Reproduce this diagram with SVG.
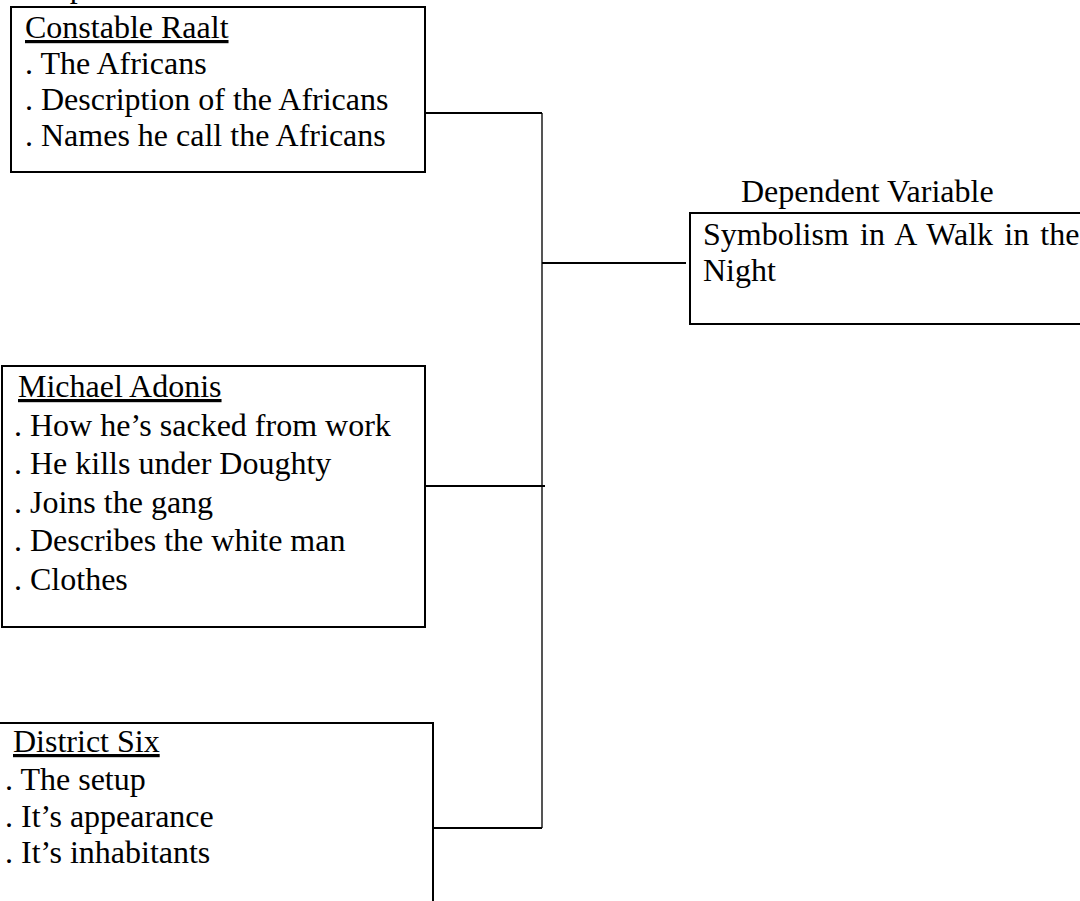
<svg xmlns="http://www.w3.org/2000/svg" width="1080" height="901" viewBox="0 0 1080 901">
<style>
text{font-family:"Liberation Serif","Times New Roman",serif;font-size:32px;fill:#000}
.box{fill:#fff;stroke:#000;stroke-width:2}
.u{text-decoration:underline}
.c{stroke:#000;stroke-width:2;fill:none}
.v{stroke:#555;stroke-width:2;fill:none}
</style>
<rect width="1080" height="901" fill="#fff"/>
<text x="13" y="-3">Independent Variable</text>
<g id="connectors">
<line class="v" x1="542" y1="113" x2="542" y2="828"/>
<line class="c" x1="422" y1="113" x2="542" y2="113"/>
<line class="c" x1="542" y1="263" x2="686" y2="263"/>
<line class="c" x1="425" y1="486" x2="545" y2="486"/>
<line class="c" x1="433" y1="828" x2="542" y2="828"/>
</g>
<g id="constable-raalt">
<rect class="box" x="11" y="7" width="414" height="165"/>
<text x="25" y="38" class="u">Constable Raalt</text>
<text x="25" y="74">. The Africans</text>
<text x="25" y="110">. Description of the Africans</text>
<text x="25" y="146">. Names he call the Africans</text>
</g>
<g id="dependent-variable">
<text x="741" y="202">Dependent Variable</text>
<rect class="box" x="690" y="213" width="400" height="111"/>
<text x="703" y="245" word-spacing="3.2">Symbolism in A Walk in the</text>
<text x="703" y="281">Night</text>
</g>
<g id="michael-adonis">
<rect class="box" x="2" y="366" width="423" height="261"/>
<text x="18" y="397" class="u">Michael Adonis</text>
<text x="14" y="435.5">. How he’s sacked from work</text>
<text x="14" y="474">. He kills under Doughty</text>
<text x="14" y="512.5">. Joins the gang</text>
<text x="14" y="551">. Describes the white man</text>
<text x="14" y="589.5">. Clothes</text>
</g>
<g id="district-six">
<rect class="box" x="-5" y="723" width="438" height="200"/>
<text x="13" y="752" class="u">District Six</text>
<text x="5" y="790">. The setup</text>
<text x="5" y="827">. It’s appearance</text>
<text x="5" y="863">. It’s inhabitants</text>
</g>
</svg>
